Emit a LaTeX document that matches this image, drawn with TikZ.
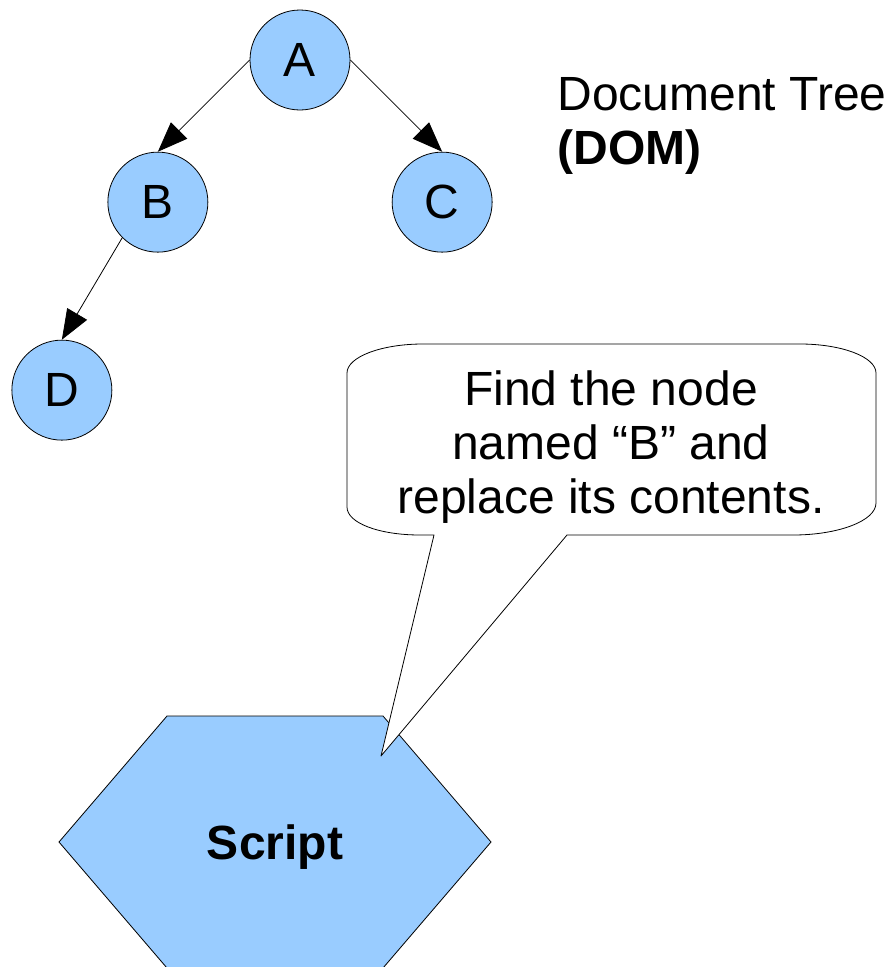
\documentclass[tikz,border=0pt]{standalone}
\usepackage{fontspec}
\setmainfont{Liberation Sans}
\usetikzlibrary{arrows.meta}
\definecolor{nodeblue}{RGB}{153,204,255}

\begin{document}
\begin{tikzpicture}[x=1pt,y=-1pt,node distance=201pt,line width=0.8pt,
    >={Triangle[length=30pt,width=23pt]},
    tree/.style={circle,draw,fill=nodeblue,minimum size=100pt,inner sep=0pt},
    bubble/.style={draw,fill=white,line join=round}]
    \useasboundingbox (0,0) rectangle (892,967);
    \fontsize{48}{54}\selectfont
    % the tree
    \node[tree] (a) at (300,60) {A};
    \node[tree,below left of=a] (b) {B};
    \node[tree,below right of=a] (c) {C};
    \node[tree,below of=b,node distance=188pt,xshift=-96pt] (d) {D};
    \path[->] (a.west) edge (b.north);
    \path[->] (a.east) edge (c.north);
    \path[->] (b.south west) edge (d.north);
    \node[anchor=north west,inner sep=0pt,align=left] (title) at (557,77)
        {Document Tree\\\textbf{(DOM)}};
    % script hexagon
    \draw[fill=nodeblue] (59,842) -- (167,716) -- (383,716) -- (491,842)
        -- (383,968) -- (167,968) -- cycle;
    \node[anchor=base,font=\bfseries] (script) at (275,859) {Script};
    % speech bubble
    \draw[bubble] (347,373) .. controls (347,357) and (381,344) .. (423,344)
        -- (800,344) .. controls (842,344) and (876,357) .. (876,373)
        -- (876,503) .. controls (876,521) and (838,535) .. (793,535)
        -- (567,535) -- (381,756) -- (434,535) -- (420,535)
        .. controls (379,535) and (347,523) .. (347,507) -- cycle;
    \node[align=center,inner sep=0pt,anchor=north] (note) at (611,370)
        {Find the node\\named “B” and\\replace its contents.};
\end{tikzpicture}
\end{document}
